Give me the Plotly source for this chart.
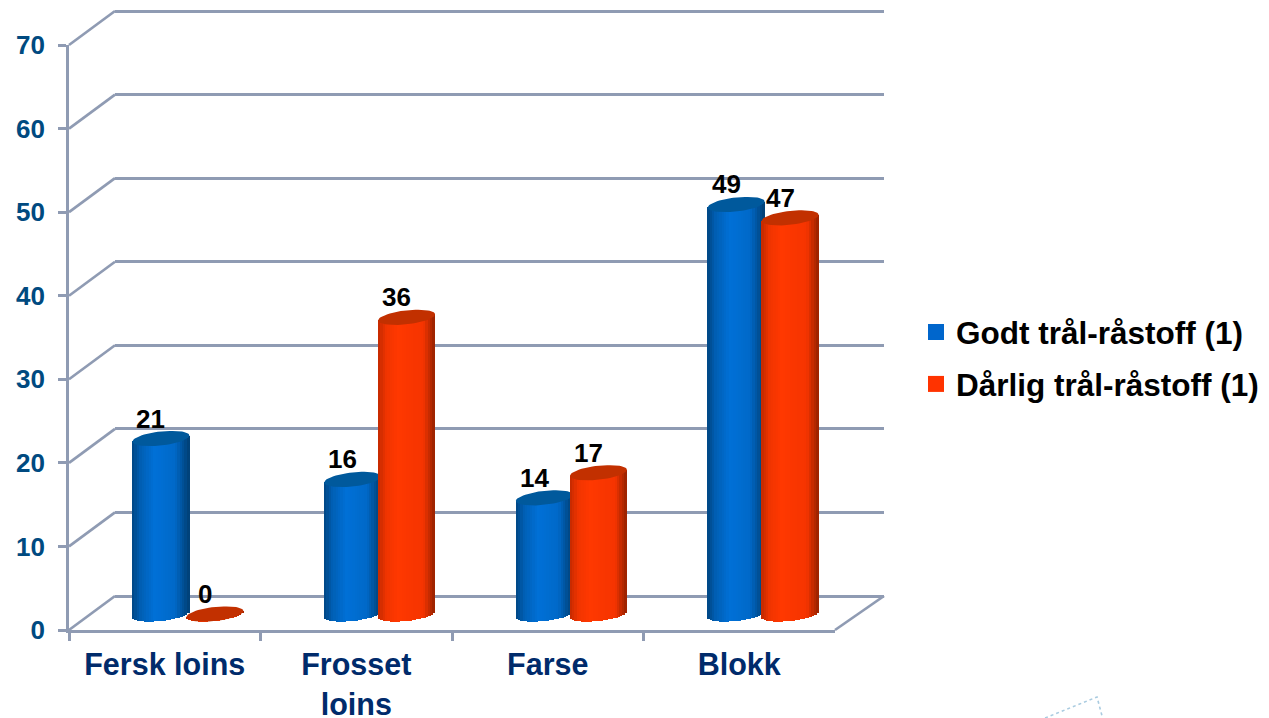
import math
import plotly.graph_objects as go

# ---- data ----
categories = ["Fersk loins", "Frosset<br>loins", "Farse", "Blokk"]
series_names = ["Godt tr\u00e5l-r\u00e5stoff (1)", "D\u00e5rlig tr\u00e5l-r\u00e5stoff (1)"]
good_values = [21.0, 16.1, 13.9, 49.0]
bad_values = [0.0, 35.5, 16.9, 47.4]
good_labels = ["21", "16", "14", "49"]
bad_labels = ["0", "36", "17", "47"]
y_ticks = [0, 10, 20, 30, 40, 50, 60, 70]

# ---- styles / geometry ----
W, H = 1269, 718
PAGE_PAD = 8  # default page margin in front of the figure
FIG_W = W - PAGE_PAD
FIG_H = H - PAGE_PAD
FONT = "Liberation Sans"
GRID = "#8F9BB3"
LINE_W = 2.7
PX_PER_UNIT = (630 - 45) / 70
BAR_PX = 57
CAT_PX = 191.75
STRIPS = 24
CAP_B = 7.0
CAP_TILT = 3.0


def fx(p):
    return (p - PAGE_PAD) / FIG_W


def fy(p):
    return 1 - (p - PAGE_PAD) / FIG_H


def mix(a, b, t):
    return "rgb(%d,%d,%d)" % tuple(round(a[i] + (b[i] - a[i]) * t) for i in range(3))


def shade(stops, u):
    for (u0, c0), (u1, c1) in zip(stops, stops[1:]):
        if u <= u1:
            return mix(c0, c1, (u - u0) / (u1 - u0))
    return mix(stops[-1][1], stops[-1][1], 0)


BLUE_STOPS = [(0, (0, 70, 130)), (0.15, (0, 95, 180)), (0.4, (0, 112, 215)),
              (0.75, (0, 105, 200)), (1, (0, 62, 115))]
RED_STOPS = [(0, (195, 42, 0)), (0.15, (240, 52, 0)), (0.35, (255, 56, 0)),
             (0.8, (245, 52, 0)), (1, (150, 34, 0))]


def cylinder_traces(values, offset, stops, cap_color, xa, ya):
    half = BAR_PX / CAT_PX / 2
    xs, bases, heights, colors, widths = [], [], [], [], []
    for i, v in enumerate(values):
        for k in range(STRIPS):
            d = -1 + (2 * k + 1) / STRIPS
            base = -(CAP_B * math.sqrt(1 - d * d) - CAP_TILT * d) / PX_PER_UNIT
            top = v + CAP_TILT * d / PX_PER_UNIT
            xs.append(i + offset + d * half)
            bases.append(base)
            heights.append(top - base)
            colors.append(shade(stops, (d + 1) / 2))
            widths.append(2 * half / STRIPS * 1.25)
    bars = go.Bar(x=xs, y=heights, base=bases, width=widths, xaxis=xa, yaxis=ya,
                  marker=dict(color=colors, line=dict(width=0)),
                  showlegend=False, hoverinfo="skip")
    cx, cy = [], []
    for i, v in enumerate(values):
        for k in range(61):
            t = 2 * math.pi * k / 60
            cx.append(i + offset + half * math.cos(t))
            cy.append(v + (CAP_TILT * math.cos(t) + CAP_B * math.sin(t)) / PX_PER_UNIT)
        cx.append(None)
        cy.append(None)
    caps = go.Scatter(x=cx, y=cy, mode="lines", fill="toself", fillcolor=cap_color,
                      line=dict(width=0, color=cap_color), xaxis=xa, yaxis=ya,
                      showlegend=False, hoverinfo="skip")
    return [bars, caps]


fig = go.Figure()

# front frame: invisible marks so that the axes are drawn
fig.add_trace(go.Scatter(x=["a", "b", "c", "d"], y=[None] * 4, xaxis="x", yaxis="y",
                         showlegend=False, hoverinfo="skip"))
# back wall
fig.add_trace(go.Scatter(x=[0, 1], y=[None, None], xaxis="x2", yaxis="y2",
                         showlegend=False, hoverinfo="skip"))

OFFSET = 27 / CAT_PX
for tr in cylinder_traces(good_values, -OFFSET, BLUE_STOPS, "#00599C", "x3", "y3"):
    fig.add_trace(tr)
for tr in cylinder_traces(bad_values, OFFSET, RED_STOPS, "#C23000", "x4", "y4"):
    fig.add_trace(tr)

# legend entries
for name, col in zip(series_names, ["#0066CC", "#FF3300"]):
    fig.add_trace(go.Scatter(x=[None], y=[None], mode="markers", name=name, legendgroup=name,
                             marker=dict(symbol="square", size=17, color=col, line=dict(width=0)),
                             xaxis="x4", yaxis="y4"))

annotations = []
for vals, labels, off in [(good_values, good_labels, -OFFSET), (bad_values, bad_labels, OFFSET)]:
    for i, (v, lab) in enumerate(zip(vals, labels)):
        annotations.append(dict(x=i + off, y=v, xref="x4", yref="y4", text=lab, showarrow=False,
                                xshift=-10, yshift=20, xanchor="center", yanchor="middle",
                                font=dict(family=FONT, size=26, weight=700, color="#000000")))

shapes = []
DEPTH_X, DEPTH_Y = 46, 34
for t in y_ticks:
    y_front = 630 - t * PX_PER_UNIT
    shapes.append(dict(type="line", xref="paper", yref="paper", layer="below",
                       x0=fx(69), y0=fy(y_front), x1=fx(69 + DEPTH_X), y1=fy(y_front - DEPTH_Y),
                       line=dict(color=GRID, width=LINE_W)))
shapes.append(dict(type="line", xref="paper", yref="paper", layer="below",
                   x0=fx(835), y0=fy(630), x1=fx(884), y1=fy(596),
                   line=dict(color=GRID, width=LINE_W)))
# faint dashed mark at the lower right corner
shapes.append(dict(type="path", xref="paper", yref="paper", layer="below",
                   path="M %.4f,%.4f L %.4f,%.4f L %.4f,%.4f" % (fx(1045), fy(718), fx(1097), fy(697), fx(1102), fy(716)),
                   line=dict(color="#A9CBE0", width=1.6, dash="dot")))

GRID_PX = (596 - 11) / 70

fig.update_layout(
    width=FIG_W, height=FIG_H,
    margin=dict(l=0, r=0, t=0, b=0, autoexpand=False),
    paper_bgcolor="white", plot_bgcolor="rgba(0,0,0,0)",
    barmode="overlay", bargap=0,
    annotations=annotations, shapes=shapes,
    legend=dict(x=fx(916), y=fy(305), xanchor="left", yanchor="top",
                tracegroupgap=8, bgcolor="rgba(0,0,0,0)",
                font=dict(family=FONT, size=31.5, weight=700, color="#000000")),
    xaxis=dict(domain=[fx(69), fx(835)], type="category", tickson="boundaries",
               tickmode="array", tickvals=["a", "b", "c", "d"], ticktext=categories,
               range=[-0.5, 3.5], ticks="outside", ticklen=8, tickwidth=LINE_W, tickcolor=GRID,
               showline=True, linecolor=GRID, linewidth=LINE_W, showgrid=False, zeroline=False,
               ticklabelstandoff=6,
               tickfont=dict(family=FONT, size=30.5, weight=700, color="#002B6B"), anchor="y", fixedrange=True),
    yaxis=dict(domain=[fy(630), fy(45)], range=[0, 70], tickmode="array", tickvals=y_ticks,
               ticks="outside", ticklen=8, tickwidth=LINE_W, tickcolor=GRID,
               showline=True, linecolor=GRID, linewidth=LINE_W, showgrid=False, zeroline=False,
               ticklabelstandoff=8,
               tickfont=dict(family=FONT, size=26, weight=700, color="#004A80"), anchor="x", fixedrange=True),
    xaxis2=dict(domain=[fx(115), fx(884)], range=[0, 1], visible=False, anchor="y2", fixedrange=True),
    yaxis2=dict(domain=[fy(596 + GRID_PX), fy(11 - GRID_PX * 0.3)], range=[-1, 70.3], tickmode="array", tickvals=y_ticks,
                showticklabels=False, ticks="", showgrid=True, gridcolor=GRID, gridwidth=LINE_W,
                zeroline=False, showline=False, anchor="x2", fixedrange=True),
    xaxis3=dict(domain=[fx(92), fx(859)], range=[-0.5, 3.5], visible=False, anchor="y3", fixedrange=True),
    yaxis3=dict(domain=[fy(614 + 2 * PX_PER_UNIT), fy(614 - 70 * PX_PER_UNIT)], range=[-2, 70],
                visible=False, anchor="x3", fixedrange=True),
    xaxis4=dict(overlaying="x3", range=[-0.5, 3.5], visible=False, anchor="y4", fixedrange=True),
    yaxis4=dict(overlaying="y3", range=[-2, 70], visible=False, anchor="x4", fixedrange=True),
)

fig.write_html("out.html")
